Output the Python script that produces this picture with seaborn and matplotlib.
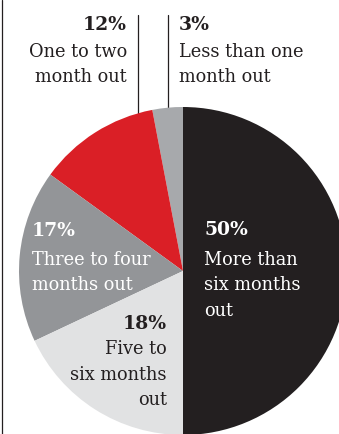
import matplotlib
matplotlib.use("Agg")
import matplotlib.pyplot as plt
import seaborn as sns

# Share of respondents by booking lead time
categories = ["Less than one\nmonth out", "One to two\nmonth out",
              "Three to four\nmonths out", "Five to\nsix months\nout",
              "More than\nsix months\nout"]
shares = [3, 12, 17, 18, 50]
pct_labels = ["3%", "12%", "17%", "18%", "50%"]
colors = ["#a7a9ac", "#da1f26", "#939598", "#e1e2e3", "#231f20"]

sns.set_theme(style="white")
plt.rcParams["font.family"] = ["DejaVu Serif"]

W, H = 339, 434
fig = plt.figure(figsize=(W / 100, H / 100), dpi=100)
ax = fig.add_axes([0, 0, 1, 1])
ax.set_xlim(0, W)
ax.set_ylim(0, H)
ax.axis("off")

cx, cy, r = 183, H - 271, 164
ax.pie(shares, colors=colors, startangle=90, counterclock=True,
       center=(cx, cy), radius=r, wedgeprops=dict(linewidth=0),
       frame=True)
ax.set_aspect("auto")
ax.set_xlim(0, W)
ax.set_ylim(0, H)
ax.axis("off")

dark = "#231f20"
# left rule and leader lines
ax.plot([1.5, 1.5], [0, H], color=dark, lw=0.9, zorder=0.5)
ax.plot([138, 138], [H - 15, H - 140], color=dark, lw=0.9, zorder=0.5)
ax.plot([168, 168], [H - 15, H - 140], color=dark, lw=0.9, zorder=0.5)

pct_fs, body_fs, lh = 13.5, 12.8, 25.5


def label(x, y_pct, pct, body, ha, color, y_body):
    ax.text(x, H - y_pct, pct, ha=ha, va="baseline", fontsize=pct_fs,
            fontweight="heavy", color=color)
    for i, line in enumerate(body.split("\n")):
        ax.text(x, H - (y_body + i * lh), line, ha=ha, va="baseline",
                fontsize=body_fs, color=color)


label(179, 30, pct_labels[0], categories[0], "left", dark, 57)
label(127, 30, pct_labels[1], categories[1], "right", dark, 57)
label(32, 236, pct_labels[2], categories[2], "left", "white", 265)
label(167, 329, pct_labels[3], categories[3], "right", dark, 354)
label(204, 235, pct_labels[4], categories[4], "left", "white", 265)

fig.savefig("out.png", dpi=100)
